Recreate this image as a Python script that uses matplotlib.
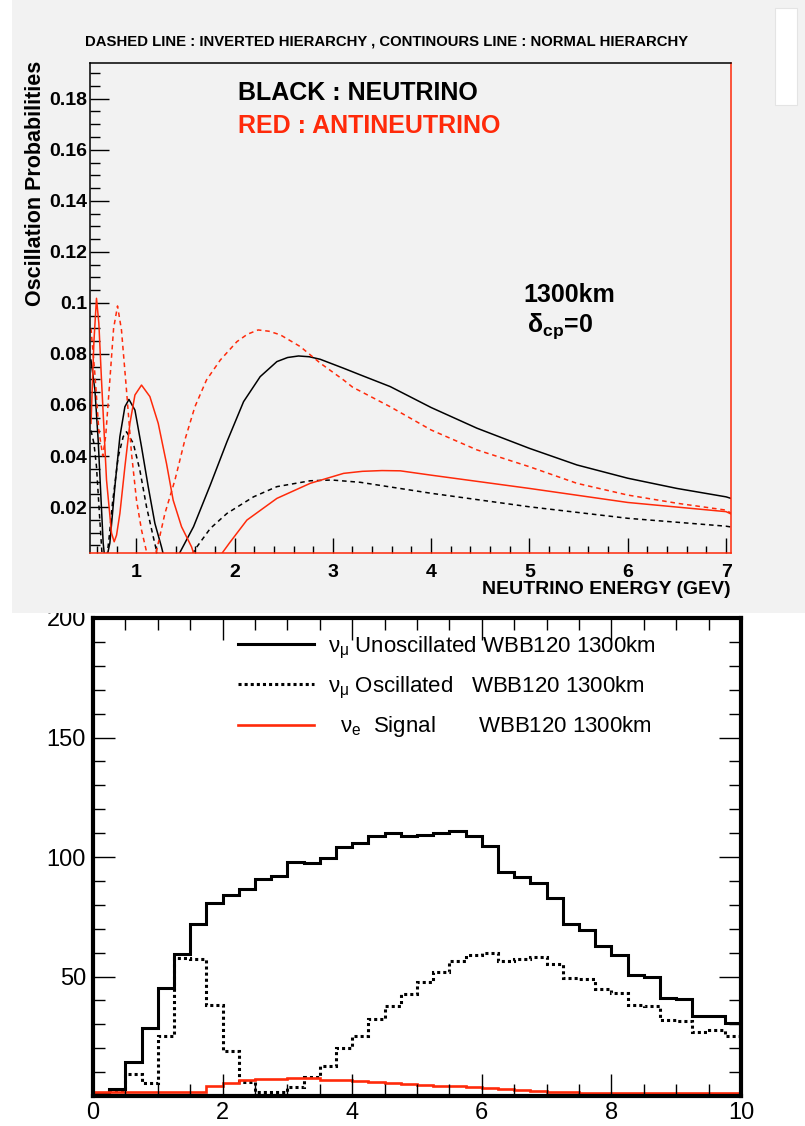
# -*- coding: utf-8 -*-
"""
plot.py

Two stacked panels: oscillation probabilities at 1300km (top) and the
WBB120 event spectra (bottom).
"""
import numpy as np
import matplotlib
matplotlib.use('Agg')
import matplotlib.pyplot as plt
from matplotlib.patches import Rectangle
from matplotlib.ticker import MultipleLocator, FuncFormatter

#%% Data - top panel (energy in GeV, probability)
nu_nh_E = [0.54, 0.58, 0.613, 0.641, 0.664, 0.68, 0.70, 0.732, 0.783, 0.834,
           0.885, 0.926, 0.987, 1.054, 1.122, 1.19, 1.257, 1.285, 1.414, 1.583,
           1.753, 1.923, 2.092, 2.261, 2.431, 2.54, 2.651, 2.76, 2.872, 3.109,
           3.279, 3.584, 4.0, 4.466, 5.0, 5.483, 6.0, 6.5, 7.0, 7.05]
nu_nh_P = [0.0776, 0.0659, 0.0463, 0.024, 0.0059, 0.0, 0.0, 0.0059, 0.028, 0.0476,
           0.0593, 0.0622, 0.058, 0.0436, 0.028, 0.0136, 0.0044, 0.0, 0.0, 0.0123,
           0.0286, 0.0456, 0.0613, 0.0711, 0.077, 0.0786, 0.0792, 0.0789, 0.0779, 0.0744,
           0.0718, 0.0672, 0.059, 0.0509, 0.043, 0.0365, 0.0313, 0.0273, 0.024, 0.0234]

nu_ih_E = [0.54, 0.57, 0.596, 0.63, 0.655, 0.70, 0.722, 0.76, 0.817, 0.868,
           0.901, 0.97, 1.037, 1.105, 1.173, 1.224, 1.55, 1.60, 1.753, 1.923,
           2.193, 2.431, 2.77, 2.99, 3.279, 4.0, 5.0, 6.0, 7.0, 7.05]
nu_ih_P = [0.050, 0.045, 0.0358, 0.0149, 0.0, 0.0, 0.0071, 0.022, 0.0397, 0.0476,
           0.0495, 0.045, 0.0345, 0.0201, 0.0084, 0.0, 0.0, 0.0035, 0.0116, 0.0175,
           0.024, 0.028, 0.0303, 0.0306, 0.0297, 0.0254, 0.0201, 0.0156, 0.0125, 0.0122]

anu_nh_E = [0.54, 0.57, 0.596, 0.62, 0.647, 0.698, 0.749, 0.776, 0.80, 0.834,
            0.885, 0.936, 0.987, 1.054, 1.139, 1.224, 1.308, 1.376, 1.461, 1.563,
            1.60, 1.837, 1.95, 2.126, 2.431, 2.77, 3.109, 3.3, 3.5, 3.686,
            4.0, 5.0, 6.0, 7.0, 7.05]
anu_nh_P = [0.0528, 0.085, 0.1018, 0.092, 0.0698, 0.0306, 0.0098, 0.0064, 0.009, 0.0175,
            0.0358, 0.0528, 0.0639, 0.0678, 0.0633, 0.0528, 0.0371, 0.0227, 0.0123, 0.0044,
            0.0, 0.0, 0.006, 0.0149, 0.0234, 0.0293, 0.0332, 0.0340, 0.0343, 0.0342,
            0.0325, 0.0273, 0.0218, 0.0182, 0.0173]

anu_ih_E = [0.54, 0.58, 0.62, 0.66, 0.69, 0.732, 0.77, 0.81, 0.85, 0.901,
            0.952, 1.003, 1.054, 1.12, 1.19, 1.292, 1.394, 1.495, 1.597, 1.715,
            1.855, 2.024, 2.13, 2.24, 2.35, 2.465, 2.668, 2.872, 3.109, 3.2,
            3.584, 4.0, 4.466, 5.0, 5.483, 6.0, 6.5, 7.0, 7.05]
anu_ih_P = [0.090, 0.072, 0.050, 0.040, 0.048, 0.0698, 0.090, 0.0988, 0.0894, 0.0659,
            0.0411, 0.0227, 0.011, 0.0, 0.0, 0.0175, 0.0306, 0.0463, 0.0593, 0.0698,
            0.0776, 0.0848, 0.0877, 0.0894, 0.0889, 0.0875, 0.0829, 0.0764, 0.0698, 0.067,
            0.0593, 0.0502, 0.0424, 0.0358, 0.0293, 0.0247, 0.0215, 0.0188, 0.0176]

#%% Data - bottom panel (40 bins of 0.25 GeV, 0..10)
unosc = [1, 3, 14.4, 28.3, 45, 59.6, 72, 80.7, 84.3, 86.7,
         90.6, 92, 98, 97.4, 99.7, 104, 105.8, 108.6, 109.9, 108.9,
         109.4, 110, 110.8, 108.9, 104.7, 93.9, 91.5, 89, 82.9, 71.8,
         69.3, 62.8, 58.9, 50.8, 49.6, 40.8, 40.4, 33.6, 33.6, 30.7]
osc = [1, 2.2, 9.4, 5.4, 24.9, 57.9, 57.2, 38.1, 19.0, 6.0,
       1.7, 1.7, 3.6, 8.1, 12.6, 20, 25.3, 32.1, 37.8, 42.6,
       47.8, 52.0, 56.5, 59.2, 60, 56.4, 57.2, 58.1, 55.4, 49.4,
       48.75, 44.7, 42.9, 38.1, 37.8, 31.9, 31.4, 26.7, 27.6, 25.3]
signal = [1.5, 1.5, 1.5, 1.5, 1.5, 1.5, 1.5, 4.0, 5.4, 6.5,
          7.1, 7.1, 7.6, 7.4, 6.8, 6.5, 6.4, 5.7, 5.4, 5.0,
          4.7, 4.3, 4.0, 3.6, 3.3, 2.8, 2.5, 2.2, 1.7, 1.7,
          1.2, 1.2, 1.2, 1.2, 1.2, 1.2, 1.2, 1.2, 1.2, 1.2]

hist_labels = [r"$\nu_{\mu}$ Unoscillated WBB120 1300km",
               r"$\nu_{\mu}$ Oscillated   WBB120 1300km",
               r"  $\nu_{e}$  Signal       WBB120 1300km"]

#%% Style
RED = '#ff2a0a'
GRAY = '#f2f2f2'
NARROW = ['Liberation Sans', 'DejaVu Sans']
plt.rcParams['font.family'] = ['Liberation Sans', 'DejaVu Sans']
plt.rcParams['mathtext.fontset'] = 'custom'
plt.rcParams['mathtext.rm'] = 'Liberation Sans'
plt.rcParams['mathtext.it'] = 'Liberation Sans'
plt.rcParams['mathtext.bf'] = 'Liberation Sans:bold'

W, H = 805, 1126
fig = plt.figure(figsize=(W / 100, H / 100), dpi=100)

def frac(x0, y0, x1, y1):
    # pixel box (top-left origin) -> figure fraction rect
    return [x0 / W, 1 - y1 / H, (x1 - x0) / W, (y1 - y0) / H]

# gray backdrop of the top canvas
bg = Rectangle((12 / W, 1 - 613 / H), 1 - 12 / W, 613 / H, transform=fig.transFigure,
               facecolor=GRAY, edgecolor='none', zorder=1)
fig.add_artist(bg)
box = Rectangle((775 / W, 1 - 105 / H), 22 / W, 97 / H, transform=fig.transFigure,
                facecolor='white', edgecolor='#e4e4e4', lw=0.8, zorder=1.5)
fig.add_artist(box)

#%% Top panel
ax = fig.add_axes(frac(90, 63, 731, 553))
ax.set_zorder(2)
ax.set_facecolor(GRAY)
ax.plot(nu_nh_E, nu_nh_P, color='black', lw=1.1)
ax.plot(nu_ih_E, nu_ih_P, color='black', lw=1.1, ls=(0, (3, 2.5)))
ax.plot(anu_nh_E, anu_nh_P, color=RED, lw=1.1)
ax.plot(anu_ih_E, anu_ih_P, color=RED, lw=1.1, ls=(0, (3, 2.5)))
ax.set_xlim(0.53, 7.05)
ax.set_ylim(0.002, 0.194)

ax.yaxis.set_major_locator(MultipleLocator(0.02))
ax.yaxis.set_minor_locator(MultipleLocator(0.005))
ax.xaxis.set_major_locator(MultipleLocator(1))
ax.xaxis.set_minor_locator(MultipleLocator(0.2))
ax.yaxis.set_major_formatter(FuncFormatter(lambda v, p: '%g' % round(v, 3)))
ax.tick_params(axis='y', which='major', direction='in', length=13.5, width=1.0, pad=2)
ax.tick_params(axis='y', which='minor', direction='in', length=7, width=1.0)
ax.tick_params(axis='x', which='major', direction='in', length=11, width=1.0, pad=8)
ax.tick_params(axis='x', which='minor', direction='in', length=5, width=1.0)
for lab in ax.get_xticklabels() + ax.get_yticklabels():
    lab.set_fontfamily(NARROW)
    lab.set_fontweight('bold')
    lab.set_fontsize(14)
for s in ['left', 'top']:
    ax.spines[s].set_linewidth(1.1)
for s in ['right', 'bottom']:
    ax.spines[s].set_color(RED)
    ax.spines[s].set_linewidth(1.1)

ax.set_ylabel('Oscillation Probabilities', loc='top', family=NARROW,
              fontweight='bold', fontsize=15.5)
ax.yaxis.set_label_coords(-0.068, 1.005)
ax.set_xlabel('NEUTRINO ENERGY (GEV)', loc='right', family=NARROW,
              fontweight='bold', fontsize=14)
ax.xaxis.set_label_coords(1.0, -0.057)

ax.text(0.231, 0.9245, 'BLACK : NEUTRINO', transform=ax.transAxes, family=NARROW,
        fontweight='bold', fontsize=18, va='baseline')
ax.text(0.231, 0.857, 'RED : ANTINEUTRINO', transform=ax.transAxes, family=NARROW,
        fontweight='bold', fontsize=18, va='baseline', color=RED)
ax.text(0.6755, 0.512, '1300km', transform=ax.transAxes, family=NARROW,
        fontweight='bold', fontsize=18, va='baseline')
ax.text(0.682, 0.451, r'$\mathbf{\delta_{cp}}$=0', transform=ax.transAxes, family=NARROW,
        fontweight='bold', fontsize=18, va='baseline')

fig.text(0.48, 1 - 41 / H,
         'DASHED LINE : INVERTED HIERARCHY , CONTINOURS LINE : NORMAL HIERARCHY',
         family=NARROW, fontweight='bold', fontsize=10.7, ha='center', va='center')

#%% Bottom panel
bx = fig.add_axes(frac(93, 618, 741, 1096))
bx.set_zorder(0)
edges = np.linspace(0, 10, len(unosc) + 1)
bx.stairs(unosc, edges, color='black', lw=2.2, baseline=None, label=hist_labels[0])
bx.stairs(osc, edges, color='black', lw=2.2, ls=(0, (1, 1)), baseline=None,
          label=hist_labels[1])
bx.stairs(signal, edges, color=RED, lw=1.9, baseline=None, label=hist_labels[2])
bx.set_xlim(0, 10)
bx.set_ylim(0, 200)
bx.set_yticks([50, 100, 150, 200])
bx.xaxis.set_major_locator(MultipleLocator(2))
bx.xaxis.set_minor_locator(MultipleLocator(0.5))
bx.yaxis.set_minor_locator(MultipleLocator(10))
bx.tick_params(which='both', direction='in', top=True, right=True, width=1.0,
               labelsize=17)
bx.tick_params(which='major', length=16)
bx.tick_params(which='minor', length=8.5)
bx.tick_params(axis='y', pad=5)
bx.tick_params(axis='x', pad=4)
for s in bx.spines.values():
    s.set_linewidth(3)

leg = bx.legend(loc='upper left', bbox_to_anchor=(0.224, 0.965), frameon=False,
                fontsize=16, handlelength=3.4, handletextpad=0.65, labelspacing=0.62,
                borderpad=0, borderaxespad=0)

fig.savefig('out.png', dpi=100, facecolor='white')
